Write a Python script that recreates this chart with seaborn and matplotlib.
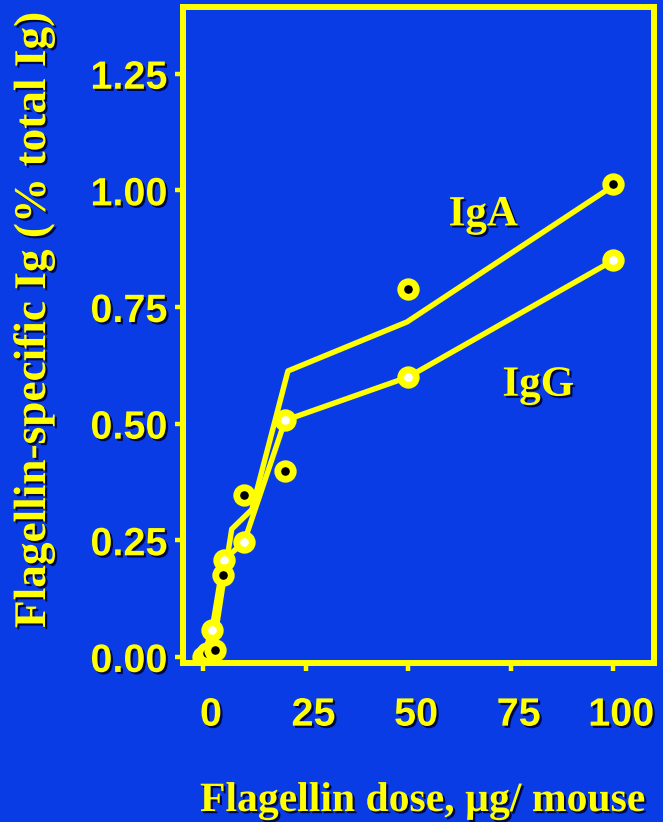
import numpy as np
import pandas as pd
import seaborn as sns
import matplotlib
matplotlib.use("Agg")
import matplotlib.pyplot as plt
import matplotlib.patheffects as pe
from matplotlib.transforms import ScaledTranslation

# ---------------- data ----------------
iga_dose = [1, 2.9, 4.8, 10, 20, 50, 100]
iga_val = [0.009, 0.015, 0.176, 0.347, 0.398, 0.788, 1.013]
igg_dose = [0, 2.2, 5, 10, 20, 50, 100]
igg_val = [0.0, 0.058, 0.208, 0.246, 0.507, 0.60, 0.85]

iga_fit_dose = [0, 3.3, 4.8, 7.0, 11.9, 20.7, 49.7, 100]
iga_fit_val = [0.0, 0.066, 0.152, 0.274, 0.316, 0.613, 0.718, 1.01]
igg_fit_dose = [0, 2.2, 5, 10, 20, 50, 100]
igg_fit_val = [0.0, 0.058, 0.208, 0.246, 0.507, 0.60, 0.85]

x_ticks = [0, 25, 50, 75, 100]
y_ticks = [0.00, 0.25, 0.50, 0.75, 1.00, 1.25]

x_label = "Flagellin dose, \u00b5g/ mouse"
y_label = "Flagellin-specific Ig (% total Ig)"

BLUE = "#0A3CE6"
YEL = "#FFFF00"

sns.set_style("white")
plt.rcParams["font.family"] = ["Liberation Sans", "DejaVu Sans"]

shadow = [pe.withSimplePatchShadow(offset=(1.6, -1.6), shadow_rgbFace="#000030", alpha=0.85)]

fig = plt.figure(figsize=(6.63, 8.22), dpi=100, facecolor=BLUE)
ax = fig.add_axes([182.5 / 663, (822 - 663) / 822, (654 - 182.5) / 663, (663 - 7.5) / 822])
ax.set_facecolor(BLUE)

fit_a = pd.DataFrame({"dose": iga_fit_dose, "val": iga_fit_val})
fit_g = pd.DataFrame({"dose": igg_fit_dose, "val": igg_fit_val})
pts_a = pd.DataFrame({"dose": iga_dose, "val": iga_val})
pts_g = pd.DataFrame({"dose": igg_dose, "val": igg_val})

sns.lineplot(data=fit_a, x="dose", y="val", ax=ax, color=YEL, lw=3.9, sort=False, zorder=2)
sns.lineplot(data=fit_g, x="dose", y="val", ax=ax, color=YEL, lw=3.9, sort=False, zorder=2)
sns.scatterplot(data=pts_g, x="dose", y="val", ax=ax, s=125, color="white",
                edgecolor=YEL, linewidth=4.9, zorder=3)
sns.scatterplot(data=pts_a, x="dose", y="val", ax=ax, s=125, color="black",
                edgecolor=YEL, linewidth=4.9, zorder=4)

ax.set_xlim(-5.0, 109.9)
ax.set_ylim(-0.013, 1.392)
ax.set_xticks(x_ticks)
ax.set_yticks(y_ticks)
ax.set_xticklabels([str(t) for t in x_ticks])
ax.set_yticklabels([f"{t:.2f}" for t in y_ticks])
ax.set_xlabel("")
ax.set_ylabel("")

for s in ax.spines.values():
    s.set_color(YEL)
    s.set_linewidth(4.3)
    s.set_visible(True)

ax.tick_params(axis="x", direction="out", length=5.5, width=3.2, color=YEL,
               pad=18, labelsize=28.5, labelcolor=YEL, bottom=True)
ax.tick_params(axis="y", direction="out", length=5.5, width=3.2, color=YEL,
               pad=5, labelsize=28.5, labelcolor=YEL, left=True)

off = ScaledTranslation(8 / 100, 0, fig.dpi_scale_trans)
for lab in ax.get_xticklabels():
    lab.set_fontweight("bold")
    lab.set_path_effects(shadow)
    lab.set_transform(lab.get_transform() + off)
for lab in ax.get_yticklabels():
    lab.set_fontweight("bold")
    lab.set_path_effects(shadow)

serif = ["Liberation Serif", "DejaVu Serif"]
ax.text(68.3, 0.925, "IgA", ha="center", va="baseline", fontsize=31, color=YEL,
        fontweight="bold", family=serif, path_effects=shadow)
ax.text(81.7, 0.56, "IgG", ha="center", va="baseline", fontsize=31, color=YEL,
        fontweight="bold", family=serif, path_effects=shadow)

fig.text(422.5 / 663, (822 - 811) / 822, x_label, ha="center", va="baseline",
         fontsize=30, color=YEL, fontweight="bold", family=serif, path_effects=shadow)
fig.text(45 / 663, (822 - 320) / 822, y_label, ha="center", va="baseline", rotation=90,
         fontsize=32.6, color=YEL, fontweight="bold", family=serif, path_effects=shadow,
         rotation_mode="anchor")

fig.savefig("out.png", dpi=100, facecolor=BLUE)
